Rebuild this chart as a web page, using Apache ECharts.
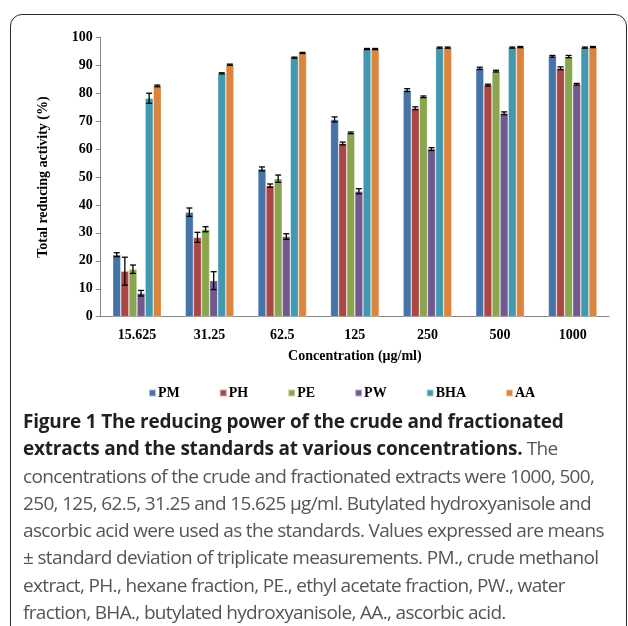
<!DOCTYPE html>
<html>
<head>
<meta charset="utf-8">
<script src="https://cdn.jsdelivr.net/npm/echarts@6/dist/echarts.min.js"></script>
<style>
  html, body { margin: 0; padding: 0; background: #fff; }
  #wrap { position: relative; width: 628px; height: 626px; overflow: hidden; }
  #frame {
    position: absolute; left: 10px; top: 14px; width: 617px; height: 640px;
    border: 1.5px solid #2b2b2b; border-radius: 12px; box-sizing: border-box;
  }
  #chart { position: absolute; left: 0; top: 0; width: 628px; height: 410px; }
  #caption {
    position: absolute; left: 23px; top: 408px; width: 600px;
    font-family: "Open Sans", "Noto Sans", sans-serif; font-size: 19px;
    line-height: 27.3px; color: #555; letter-spacing: -0.66px; white-space: nowrap;
  }
  #caption b { color: #231f20; font-weight: 700; letter-spacing: -0.2px; }
</style>
</head>
<body>
<div id="wrap">
  <div id="frame"></div>
  <div id="chart"></div>
  <div id="caption">
    <b>Figure 1 The reducing power of the crude and fractionated</b><br>
    <b>extracts and the standards at various concentrations.</b> The<br>
    concentrations of the crude and fractionated extracts were 1000, 500,<br>
    250, 125, 62.5, 31.25 and 15.625 μg/ml. Butylated hydroxyanisole and<br>
    ascorbic acid were used as the standards. Values expressed are means<br>
    ± standard deviation of triplicate measurements. PM., crude methanol<br>
    extract, PH., hexane fraction, PE., ethyl acetate fraction, PW., water<br>
    fraction, BHA., butylated hydroxyanisole, AA., ascorbic acid.
  </div>
</div>
<script>
var categories = ['15.625', '31.25', '62.5', '125', '250', '500', '1000']
var seriesNames = ['PM', 'PH', 'PE', 'PW', 'BHA', 'AA']
var colors = ['#4572A7', '#AA4643', '#89A54E', '#71588F', '#4198AF', '#DB843D']

var pmData = [22.2, 37.4, 52.9, 70.6, 81.1, 88.9, 93.2]
var phData = [16.3, 28.4, 46.9, 62.0, 74.6, 82.9, 88.9]
var peData = [17.0, 31.3, 49.4, 65.8, 78.7, 87.9, 93.1]
var pwData = [8.4, 12.9, 28.7, 44.9, 60.0, 72.8, 83.2]
var bhaData = [78.2, 87.1, 92.7, 95.8, 96.3, 96.3, 96.3]
var aaData = [82.6, 90.2, 94.4, 95.8, 96.3, 96.5, 96.5]

// standard deviations (error bars)
var pmErr = [0.7, 1.5, 0.7, 0.9, 0.5, 0.4, 0.3]
var phErr = [5.0, 1.8, 0.6, 0.5, 0.5, 0.3, 0.5]
var peErr = [1.5, 0.9, 1.3, 0.3, 0.3, 0.3, 0.4]
var pwErr = [1.0, 3.2, 1.0, 0.9, 0.5, 0.5, 0.3]
var bhaErr = [1.8, 0.2, 0.2, 0.2, 0.2, 0.2, 0.2]
var aaErr = [0.3, 0.2, 0.2, 0.2, 0.2, 0.2, 0.2]

var yTicks = [0, 10, 20, 30, 40, 50, 60, 70, 80, 90, 100]

var values = [pmData, phData, peData, pwData, bhaData, aaData]
var errors = [pmErr, phErr, peErr, pwErr, bhaErr, aaErr]

var catGap = 0.33
var serif = '"Liberation Serif", "Times New Roman", serif'

function errorRender(idx) {
  return function (params, api) {
    var cat = api.value(0)
    var v = api.value(1)
    var e = api.value(2)
    var band = api.size([1, 0])[0]
    var groupW = band * (1 - catGap)
    var bw = groupW / seriesNames.length
    var center = api.coord([cat, v])[0]
    var x = center - groupW / 2 + bw * (idx + 0.5)
    var top = api.coord([cat, v + e])[1]
    var bot = api.coord([cat, v - e])[1]
    var cap = 3
    var style = { stroke: '#000', lineWidth: 1.3 }
    return {
      type: 'group',
      children: [
        { type: 'line', shape: { x1: x, y1: top, x2: x, y2: bot }, style: style },
        { type: 'line', shape: { x1: x - cap, y1: top, x2: x + cap, y2: top }, style: style },
        { type: 'line', shape: { x1: x - cap, y1: bot, x2: x + cap, y2: bot }, style: style }
      ]
    }
  }
}

var series = []
seriesNames.forEach(function (name, i) {
  series.push({
    name: name,
    type: 'bar',
    barGap: '0%',
    barCategoryGap: (catGap * 100) + '%',
    itemStyle: { color: colors[i], borderColor: 'rgba(255,255,255,0.55)', borderWidth: 0.6 },
    data: values[i]
  })
})
seriesNames.forEach(function (name, i) {
  series.push({
    type: 'custom',
    renderItem: errorRender(i),
    z: 10,
    silent: true,
    data: values[i].map(function (v, j) { return [j, v, errors[i][j]] })
  })
})

var chart = echarts.init(document.getElementById('chart'))
chart.setOption({
  animation: false,
  color: colors,
  grid: { left: 100.7, right: 19, top: 37.3, height: 279.4, containLabel: false },
  legend: {
    data: seriesNames,
    left: 143,
    top: 381,
    itemWidth: 7,
    itemHeight: 7,
    itemGap: 39,
    icon: 'rect',
    textStyle: { fontFamily: serif, fontWeight: 'bold', fontSize: 14, color: '#000', padding: [0, 0, 0, -3] }
  },
  xAxis: {
    type: 'category',
    data: categories,
    name: 'Concentration (μg/ml)',
    nameLocation: 'middle',
    nameGap: 33,
    nameTextStyle: { fontFamily: serif, fontWeight: 'bold', fontSize: 14, color: '#000', verticalAlign: 'top' },
    axisLine: { lineStyle: { color: '#868686', width: 1 } },
    axisTick: { show: false },
    axisLabel: { fontFamily: serif, fontWeight: 'bold', fontSize: 14, color: '#000', margin: 12 }
  },
  yAxis: {
    type: 'value',
    min: yTicks[0],
    max: yTicks[yTicks.length - 1],
    interval: yTicks[1] - yTicks[0],
    name: 'Total reducing activity (%)',
    nameLocation: 'middle',
    nameGap: 50,
    nameTextStyle: { fontFamily: serif, fontWeight: 'bold', fontSize: 14, color: '#000' },
    splitLine: { show: false },
    axisLine: { show: true, lineStyle: { color: '#868686', width: 1 } },
    axisTick: { show: true, length: 5, lineStyle: { color: '#868686' } },
    axisLabel: { fontFamily: serif, fontWeight: 'bold', fontSize: 14, color: '#000', margin: 8 }
  },
  series: series
})
</script>
</body>
</html>
